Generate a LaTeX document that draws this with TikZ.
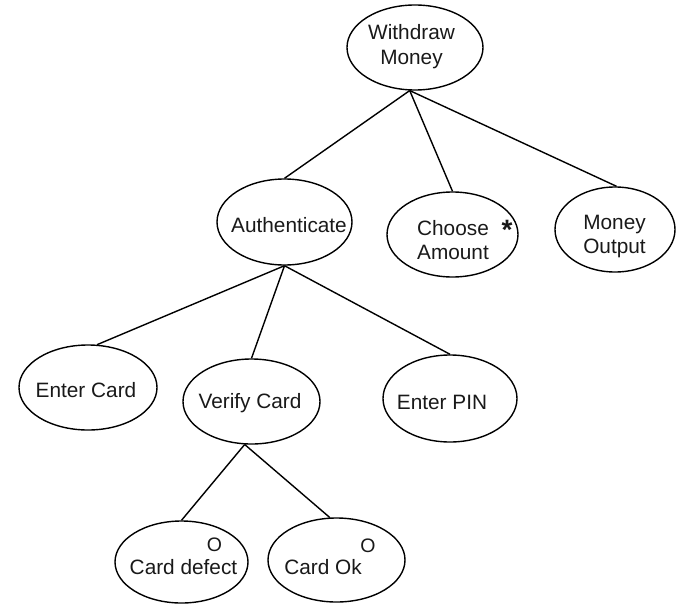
\documentclass[tikz,border=0pt]{standalone}
\usepackage{fontspec}
\setmainfont{Liberation Sans}
\usetikzlibrary{shapes.geometric}

% first-line baseline anchored two-line label
\newcommand\twolines[2]{\begin{tabular}[t]{@{}c@{}}#1\\#2\end{tabular}}

\begin{document}
\begin{tikzpicture}[
  x=1pt, y=-1pt,
  oval/.style={draw=black, line width=1.4pt, ellipse, inner sep=0pt},
  txt/.style={inner sep=0pt, anchor=base, text=black!90,
              font=\fontsize{20.8}{24.5}\selectfont},
  mult/.style={inner sep=0pt, anchor=base, text=black!90},
  edge/.style={draw=black, line width=1.4pt}
]
\useasboundingbox (0,0) rectangle (676,604);

% goal tree: ellipses
\node[oval, minimum width=136, minimum height=85] (wm)        at (415,47.5)  {};
\node[oval, minimum width=135, minimum height=86] (auth)      at (284.5,222) {};
\node[oval, minimum width=131, minimum height=85] (choose)    at (452.5,234.5) {};
\node[oval, minimum width=120, minimum height=85] (money)     at (615,229.5) {};
\node[oval, minimum width=138, minimum height=85] (entercard) at (88,387.5)  {};
\node[oval, minimum width=137, minimum height=85] (verify)    at (251.5,401.5) {};
\node[oval, minimum width=134, minimum height=87] (pin)       at (450,398.5) {};
\node[oval, minimum width=133, minimum height=82] (defect)    at (181.5,562) {};
\node[oval, minimum width=137, minimum height=84] (ok)        at (336.5,560) {};

% labels
\node[txt] (wm-t)        at (411.5,40) {\twolines{Withdraw}{Money}};
\node[txt] (auth-t)      at (289,232)  {Authenticate};
\node[txt] (choose-t)    at (453,235)  {\twolines{Choose}{Amount}};
\node[txt] (money-t)     at (614.5,229) {\twolines{Money}{Output}};
\node[txt] (entercard-t) at (86,397)   {Enter Card};
\node[txt] (verify-t)    at (250,408)  {Verify Card};
\node[txt] (pin-t)       at (442,409)  {Enter PIN};
\node[txt] (defect-t)    at (183.5,574) {Card defect};
\node[txt] (ok-t)        at (323,574)  {Card Ok};

% multiplicity / option markers
\node[mult, font=\fontsize{28}{28}\selectfont\bfseries] (choose-m) at (507,239) {*};
\node[mult, font=\fontsize{19.5}{20}\selectfont] (defect-m) at (214.5,551) {O};
\node[mult, font=\fontsize{19.5}{20}\selectfont] (ok-m)     at (368,552)   {O};

% decomposition edges
\draw[edge] (wm.263) -- (auth.north);
\draw[edge] (wm.263) -- (choose.north);
\draw[edge] (wm.263) -- (money.88);
\draw[edge] (auth.south) -- (entercard.78);
\draw[edge] (auth.south) -- (verify.north);
\draw[edge] (auth.south) -- (pin.north);
\draw[edge] (verify.261) -- (defect.north);
\draw[edge] (verify.261) -- (ok.99);
\end{tikzpicture}
\end{document}
